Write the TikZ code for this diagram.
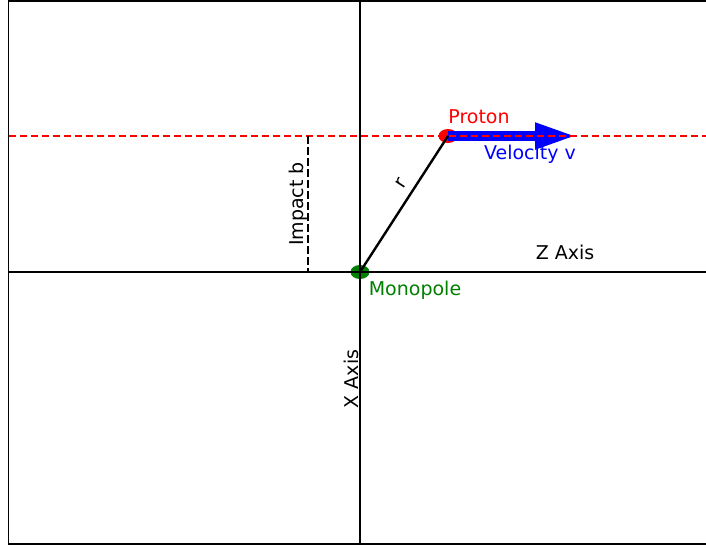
\documentclass[tikz,border=0pt]{standalone}
\usepackage{fontspec}
\setmainfont{DejaVu Sans}
\usetikzlibrary{arrows.meta,shapes.geometric}
\definecolor{mgreen}{RGB}{0,128,0}
\begin{document}
\begin{tikzpicture}[x=1pt,y=-1pt,
  lbl/.style={inner sep=0pt,font=\fontsize{19}{22}\selectfont},
  dot/.style={ellipse,draw=none,minimum width=19pt,minimum height=14pt,inner sep=0pt},
  axisline/.style={line width=1.4pt,black},
  mdash/.style={line width=1.6pt,dash pattern=on 7.7pt off 3.3pt}]
\useasboundingbox (0,0) rectangle (706,547);
\fill[white] (0,0) rectangle (706,547);
% frame
\draw[line width=1.8pt] (706,1) -- (8.5,1) -- (8.5,544) -- (706,544);
% dots
\node[dot,fill=mgreen] (mono) at (360,272) {};
\node[dot,fill=red] (proton) at (448,136) {};
\coordinate (vtip) at (577,136);
% velocity arrow
\draw[blue,line width=10pt,-{Triangle[length=42pt,width=24pt]}] (proton.center) -- (vtip);
% axes
\coordinate (zl) at (8.5,272); \coordinate (zr) at (706,272);
\coordinate (xt) at (360,1); \coordinate (xb) at (360,544);
\draw[axisline] (zl) -- (zr);
\draw[axisline] (xt) -- (xb);
% trajectory
\coordinate (tl) at (8.5,136); \coordinate (tr) at (706,136);
\draw[red,mdash] (tl) -- (tr);
% impact parameter
\coordinate (bt) at (308,136); \coordinate (bb) at (308,272);
\draw[black,mdash] (bt) -- (bb);
% r line
\draw[line width=2.4pt] (mono.center) -- (proton.center);
% labels
\node[lbl,rotate=90] (impl) at (298,204) {Impact b};
\node[lbl,rotate=56.9] (rl) at (401,183) {r};
\node[lbl,red] (pl) at (479,117) {Proton};
\node[lbl,blue] (vl) at (530,154) {Velocity v};
\node[lbl] (zlab) at (565,252) {Z Axis};
\node[lbl,mgreen] (ml) at (415,290) {Monopole};
\node[lbl,rotate=90] (xlab) at (351,379) {X Axis};
\end{tikzpicture}
\end{document}
